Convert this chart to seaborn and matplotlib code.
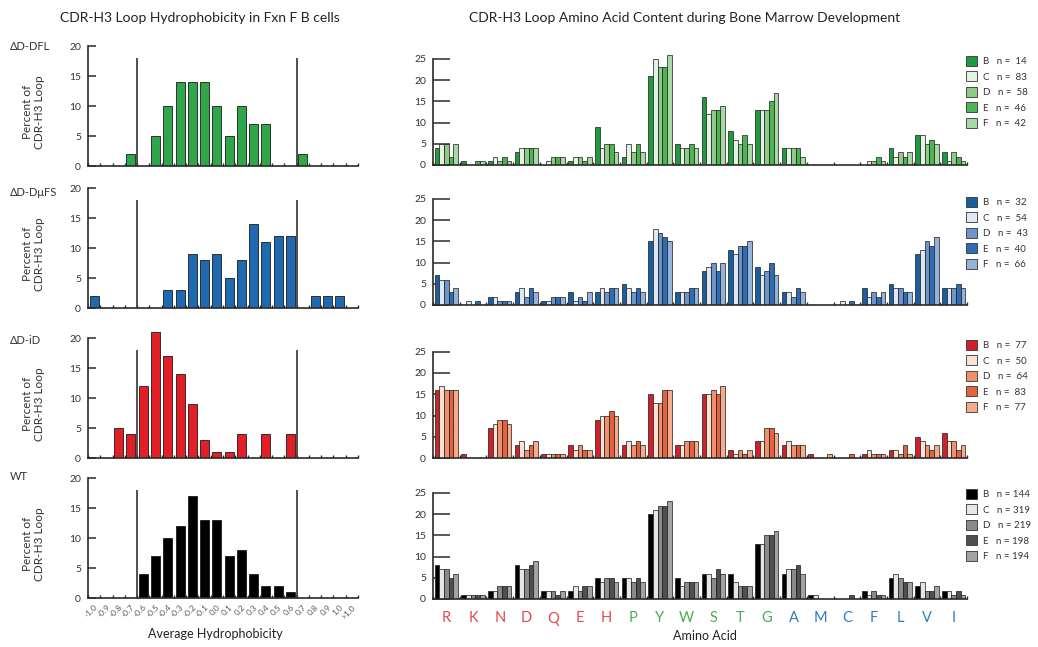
import numpy as np
import pandas as pd
import matplotlib
matplotlib.use("Agg")
import matplotlib.pyplot as plt
import seaborn as sns
from matplotlib.patches import Patch

# ---------------- data ----------------
hydro_bins = ["-1.0", "-0.9", "-0.8", "-0.7", "-0.6", "-0.5", "-0.4", "-0.3", "-0.2", "-0.1",
              "0.0", "0.1", "0.2", "0.3", "0.4", "0.5", "0.6", "0.7", "0.8", "0.9", "1.0", ">1.0"]
hydro_dfl = [0, 0, 0, 2, 0, 5, 10, 14, 14, 14, 10, 5, 10, 7, 7, 0, 0, 2, 0, 0, 0, 0]
hydro_dmufs = [2, 0, 0, 0, 0, 0, 3, 3, 9, 8, 9, 5, 8, 14, 11, 12, 12, 0, 2, 2, 2, 0]
hydro_id = [0, 0, 5, 4, 12, 21, 17, 14, 9, 3, 1, 1, 4, 0, 4, 0, 4, 0, 0, 0, 0, 0]
hydro_wt = [0, 0, 0, 0, 4, 7, 10, 12, 17, 13, 13, 7, 8, 4, 2, 2, 1, 0, 0, 0, 0, 0]

amino_acids = ["R", "K", "N", "D", "Q", "E", "H", "P", "Y", "W",
               "S", "T", "G", "A", "M", "C", "F", "L", "V", "I"]
stages = ["B", "C", "D", "E", "F"]

dfl_B = [4, 1, 1, 3, 0, 1, 9, 2, 21, 5, 16, 8, 13, 4, 0, 0, 0, 4, 7, 3]
dfl_C = [5, 0, 2, 4, 1, 2, 4, 5, 25, 4, 12, 6, 13, 4, 0, 0, 1, 2, 7, 1]
dfl_D = [5, 0, 1, 4, 2, 2, 5, 3, 23, 4, 13, 5, 13, 4, 0, 0, 1, 3, 5, 3]
dfl_E = [2, 1, 2, 4, 2, 1, 5, 5, 23, 5, 13, 7, 15, 4, 0, 0, 2, 2, 6, 2]
dfl_F = [5, 1, 1, 4, 2, 2, 3, 3, 26, 4, 14, 5, 17, 2, 0, 0, 1, 3, 5, 1]
dfl_n = [14, 83, 58, 46, 42]

dmufs_B = [7, 0, 2, 3, 1, 3, 3, 5, 15, 3, 8, 13, 9, 3, 0, 0, 4, 5, 12, 4]
dmufs_C = [6, 1, 2, 4, 1, 1, 4, 4, 18, 3, 9, 12, 7, 3, 0, 1, 2, 4, 13, 4]
dmufs_D = [6, 0, 1, 2, 2, 2, 3, 3, 17, 3, 10, 14, 8, 2, 0, 0, 3, 4, 15, 4]
dmufs_E = [3, 1, 1, 4, 2, 1, 4, 4, 16, 4, 8, 14, 10, 4, 0, 1, 2, 3, 14, 5]
dmufs_F = [4, 0, 1, 3, 2, 3, 4, 3, 15, 4, 10, 15, 7, 3, 0, 0, 3, 3, 16, 4]
dmufs_n = [32, 54, 43, 40, 66]

id_B = [16, 1, 7, 3, 1, 3, 9, 3, 15, 3, 15, 2, 4, 3, 1, 0, 1, 2, 5, 6]
id_C = [17, 0, 8, 4, 1, 2, 10, 4, 13, 3, 15, 1, 4, 4, 0, 0, 2, 2, 4, 4]
id_D = [16, 0, 9, 2, 1, 3, 10, 3, 13, 4, 16, 2, 7, 3, 0, 0, 1, 1, 3, 4]
id_E = [16, 0, 9, 3, 1, 2, 11, 4, 16, 4, 15, 1, 7, 3, 0, 1, 1, 3, 2, 2]
id_F = [16, 0, 8, 4, 1, 2, 10, 3, 16, 4, 17, 2, 6, 3, 1, 0, 1, 1, 3, 3]
id_n = [77, 50, 64, 83, 77]

wt_B = [8, 1, 2, 8, 2, 2, 5, 5, 20, 5, 6, 6, 13, 6, 1, 0, 2, 5, 3, 2]
wt_C = [7, 1, 2, 7, 2, 3, 4, 5, 21, 3, 6, 4, 13, 7, 1, 0, 1, 6, 4, 2]
wt_D = [7, 1, 3, 7, 2, 2, 5, 4, 22, 4, 5, 3, 15, 7, 0, 0, 2, 5, 2, 1]
wt_E = [5, 1, 3, 8, 1, 3, 5, 5, 22, 4, 7, 3, 15, 8, 0, 1, 1, 4, 2, 2]
wt_F = [6, 1, 3, 9, 2, 3, 4, 4, 23, 4, 6, 3, 16, 6, 0, 0, 1, 4, 3, 1]
wt_n = [144, 319, 219, 198, 194]

genotype_labels = ["\u0394D-DFL", "\u0394D-D\u03bcFS", "\u0394D-iD", "WT"]

# ---------------- style ----------------
sns.set_style("ticks")
plt.rcParams["font.family"] = ["Lato", "DejaVu Sans"]
TXT = "#333333"

left_colors = ["#2fa64a", "#1f69b1", "#e21f26", "#000000"]
right_palettes = [
    ["#1f9a3e", "#e4f2e1", "#8fca8b", "#4cb552", "#a9d9a2"],
    ["#1b5e9e", "#dfe7f3", "#6d95c9", "#2e6db4", "#93b3da"],
    ["#d0212a", "#fbe0d4", "#ef906e", "#e5623f", "#f6ab8c"],
    ["#000000", "#e6e6e6", "#8a8a8a", "#4f4f4f", "#a3a3a3"],
]
aa_color = {"red": "#e2474f", "green": "#49ad4f", "blue": "#2e7cc0"}
aa_groups = ["red"] * 7 + ["green"] * 6 + ["blue"] * 7

W, H = 1038, 647
fig = plt.figure(figsize=(W / 100, H / 100), dpi=100)


def px_axes(l, t, r, b):
    return fig.add_axes([l / W, 1 - b / H, (r - l) / W, (b - t) / H])


hydro_series = [hydro_dfl, hydro_dmufs, hydro_id, hydro_wt]
left_bottoms = [166, 308, 458, 598]
right_bottoms = [165, 305, 458, 599]
right_series = [
    [dfl_B, dfl_C, dfl_D, dfl_E, dfl_F],
    [dmufs_B, dmufs_C, dmufs_D, dmufs_E, dmufs_F],
    [id_B, id_C, id_D, id_E, id_F],
    [wt_B, wt_C, wt_D, wt_E, wt_F],
]
right_n = [dfl_n, dmufs_n, id_n, wt_n]
label_y = [47, 193, 340, 477]
legend_top = [56, 197, 340, 489]

LPU = 6.0      # px per unit, left
RPU = 4.25     # px per unit, right
LYMAX = 21.5
RYMAX = 26.5

for i in range(4):
    # ---------- left hydrophobicity histogram ----------
    b = left_bottoms[i]
    ax = px_axes(88, b - LYMAX * LPU, 358, b)
    df = pd.DataFrame({"bin": hydro_bins, "pct": hydro_series[i]})
    sns.barplot(data=df, x="bin", y="pct", order=hydro_bins, color=left_colors[i],
                saturation=1, width=0.73, edgecolor="#1a1a1a", linewidth=0.6,
                errorbar=None, ax=ax)
    ax.set_xlim(-0.5, len(hydro_bins) - 0.5)
    ax.set_ylim(0, LYMAX)
    ax.set_yticks([0, 5, 10, 15, 20])
    ax.vlines([3.5, 16.5], 0, 18, color="#333333", lw=1.2, zorder=3)
    for s in ["top", "right"]:
        ax.spines[s].set_visible(False)
    ax.spines["left"].set_bounds(0, 20)
    for s in ["left", "bottom"]:
        ax.spines[s].set_linewidth(1.2)
        ax.spines[s].set_color("#2a2a2a")
    ax.tick_params(axis="y", direction="in", length=6, width=1.1, labelsize=7.5,
                   labelcolor=TXT, pad=5, color="#2a2a2a")
    ax.set_xticks(np.arange(-0.5, len(hydro_bins)), minor=True)
    ax.tick_params(axis="x", which="minor", direction="in", length=2.5, width=1.0, color="#2a2a2a")
    ax.tick_params(axis="x", which="major", length=0)
    ax.set_xlabel("")
    ax.set_ylabel("Percent of\nCDR-H3 Loop", fontsize=8.5, color=TXT, linespacing=1.1)
    ax.yaxis.set_label_coords(-0.16, 0.42)
    if i == 3:
        ax.set_xticks(range(len(hydro_bins)))
        ax.set_xticklabels(hydro_bins, rotation=45, ha="right", rotation_mode="anchor",
                           fontsize=6, color="#555555")
        ax.tick_params(axis="x", which="major", pad=4)
    else:
        ax.set_xticklabels([])
    fig.text(10 / W, 1 - label_y[i] / H, genotype_labels[i], fontsize=8, color=TXT,
             ha="left", va="center")

    # ---------- right amino-acid content ----------
    b = right_bottoms[i]
    ax = px_axes(433, b - RYMAX * RPU, 967, b)
    rows = []
    for st, vals in zip(stages, right_series[i]):
        for aa, v in zip(amino_acids, vals):
            rows.append({"aa": aa, "stage": st, "pct": v})
    df = pd.DataFrame(rows)
    pal = dict(zip(stages, right_palettes[i]))
    sns.barplot(data=df, x="aa", y="pct", hue="stage", order=amino_acids, hue_order=stages,
                palette=pal, saturation=1, width=0.875, edgecolor="#1a1a1a", linewidth=0.5,
                errorbar=None, legend=False, ax=ax)
    ax.set_xlim(-0.5, len(amino_acids) - 0.5)
    ax.set_ylim(0, RYMAX)
    ax.set_yticks([0, 5, 10, 15, 20, 25])
    for s in ["top", "right"]:
        ax.spines[s].set_visible(False)
    ax.spines["left"].set_bounds(0, 25)
    for s in ["left", "bottom"]:
        ax.spines[s].set_linewidth(1.2)
        ax.spines[s].set_color("#2a2a2a")
    ax.tick_params(axis="y", direction="in", length=12, width=1.1, labelsize=7.5,
                   labelcolor=TXT, pad=5, color="#2a2a2a")
    ax.set_xticks(np.arange(-0.5, len(amino_acids)), minor=True)
    ax.tick_params(axis="x", which="minor", direction="in", length=2.5, width=1.0, color="#2a2a2a")
    ax.tick_params(axis="x", which="major", length=0)
    ax.set_xlabel("")
    ax.set_ylabel("")
    if i == 3:
        ax.set_xticks(range(len(amino_acids)))
        ax.set_xticklabels(amino_acids, fontsize=10.5)
        ax.tick_params(axis="x", which="major", pad=9)
        for lab, g in zip(ax.get_xticklabels(), aa_groups):
            lab.set_color(aa_color[g])
    else:
        ax.set_xticklabels([])

    handles = [Patch(facecolor=c, edgecolor="#333333", linewidth=0.6) for c in right_palettes[i]]
    labels = [f"{st}   n = {n:>3}" for st, n in zip(stages, right_n[i])]
    ax.legend(handles=handles, labels=labels, loc="upper left",
              bbox_to_anchor=(966 / W, 1 - legend_top[i] / H), bbox_transform=fig.transFigure,
              frameon=False, fontsize=7, handlelength=1.15, handleheight=1.15,
              labelspacing=0.55, handletextpad=0.6, borderpad=0, borderaxespad=0,
              labelcolor=TXT)

fig.text(200 / W, 1 - 18 / H, "CDR-H3 Loop Hydrophobicity in Fxn F B cells",
         fontsize=10, color="#222222", ha="center", va="center")
fig.text(685 / W, 1 - 18 / H, "CDR-H3 Loop Amino Acid Content during Bone Marrow Development",
         fontsize=10, color="#222222", ha="center", va="center")
fig.text(215 / W, 1 - 634 / H, "Average Hydrophobicity", fontsize=9, color="#222222",
         ha="center", va="center")
fig.text(705 / W, 1 - 636 / H, "Amino Acid", fontsize=9, color="#222222",
         ha="center", va="center")

fig.savefig("out.png", dpi=100)
